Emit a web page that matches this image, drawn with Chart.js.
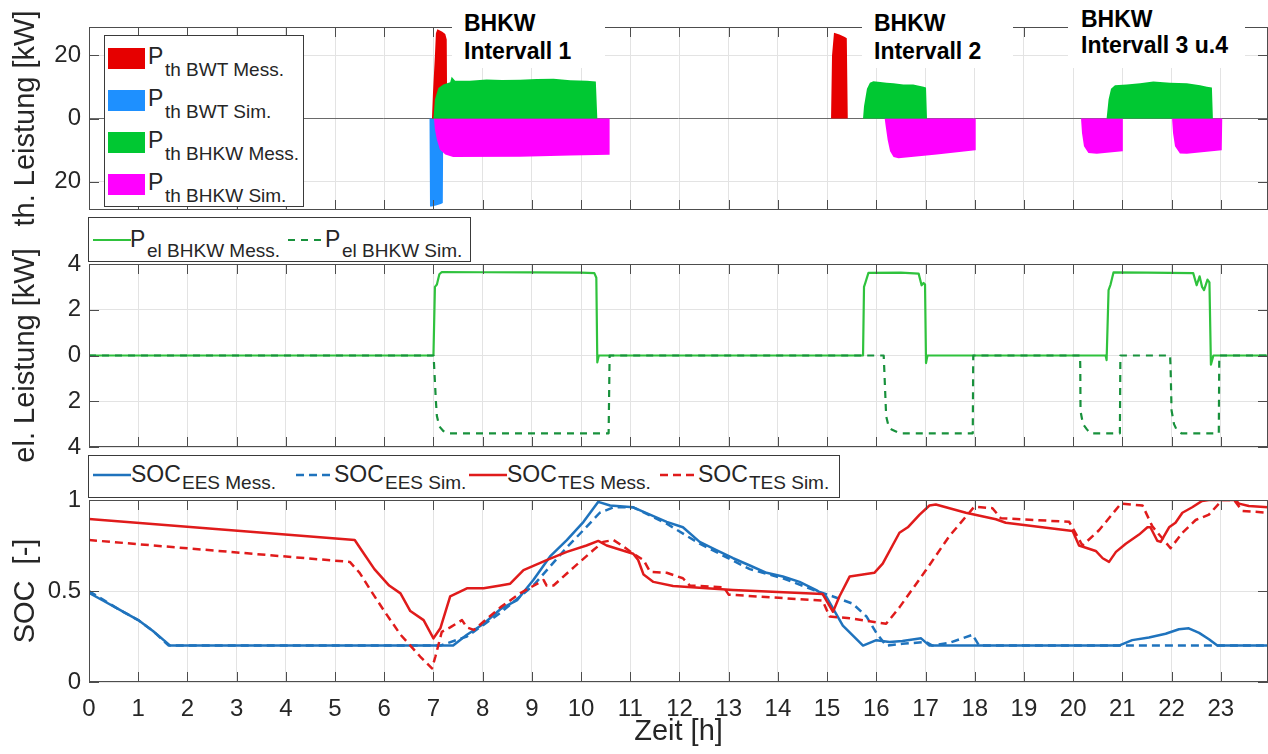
<!DOCTYPE html>
<html><head><meta charset="utf-8">
<script src="https://cdn.jsdelivr.net/npm/chart.js@4.4.1/dist/chart.umd.min.js"></script>
<style>
html,body{margin:0;padding:0;background:#fff;overflow:hidden;}
#wrap{position:relative;width:1268px;height:754px;overflow:hidden;font-family:"Liberation Sans",Arial,sans-serif;color:#262626;}
canvas{position:absolute;left:0;}
.leg{position:absolute;background:#fff;border:1px solid #3a3a3a;box-sizing:border-box;}
.leg span{position:absolute;white-space:nowrap;}
.m{font-size:23px;line-height:23px;}
.s{font-size:19px;line-height:19px;}
.ann{position:absolute;background:#fff;font-weight:bold;font-size:23px;color:#000;box-sizing:border-box;white-space:nowrap;}
</style></head>
<body>
<div id="wrap">
  <canvas id="c3" width="1268" height="314" style="top:440px"></canvas>
  <canvas id="c2" width="1268" height="258" style="top:212px"></canvas>
  <canvas id="c1" width="1268" height="235" style="top:0px"></canvas>
</div>
<script>
const FONT = '"Liberation Sans", Arial, sans-serif';
Chart.defaults.font.family = FONT;
Chart.defaults.color = '#262626';

// ---------- x axis ----------
const hourTicks = [0,1,2,3,4,5,6,7,8,9,10,11,12,13,14,15,16,17,18,19,20,21,22,23];
const xMax = 23.96;

// ---------- panel 1: thermal power [kW] ----------
const thTicks = [-20, 0, 20];
const bwtMessT = [0, 6.97, 6.99, 7.01, 7.03, 7.05, 7.08, 7.12, 7.18, 7.24, 7.27, 7.28, 15.08, 15.10, 15.14, 15.25, 15.36, 15.40, 15.42, 23.96];
const bwtMessP = [0, 0, 8, 14, 20, 27, 28.3, 28.0, 27.5, 26.8, 25, 0, 0, 20, 27.2, 26.6, 25.8, 25.4, 0, 0];
const bwtSimT = [0, 6.92, 6.93, 6.96, 7.05, 7.15, 7.19, 7.20, 23.96];
const bwtSimP = [0, 0, -27.9, -27.9, -27.6, -27.1, -26.8, 0, 0];
const bhkwMessT = [0, 7.0, 7.03, 7.10, 7.20, 7.34, 7.37, 7.44, 7.74, 8.08, 8.40, 8.76, 9.10, 9.44, 9.78, 10.12, 10.30, 10.33,
  15.73, 15.75, 15.81, 15.87, 15.94, 16.08, 16.21, 16.35, 16.55, 16.75, 16.96, 17.01, 17.03,
  20.68, 20.72, 20.77, 20.85, 21.09, 21.36, 21.63, 21.97, 22.31, 22.58, 22.72, 22.82, 22.84, 23.96];
const bhkwMessP = [0, 0, 6.0, 9.7, 10.8, 11.5, 13.2, 12.0, 12.0, 12.4, 12.2, 12.3, 12.5, 12.6, 12.1, 12.0, 11.7, 0,
  0, 3.9, 9.4, 11.3, 11.8, 11.6, 11.3, 11.2, 10.8, 10.8, 10.1, 9.8, 0,
  0, 6.0, 9.4, 10.5, 10.8, 11.2, 11.7, 11.3, 11.2, 10.5, 10.1, 9.8, 0, 0];
const bhkwSimT = [0, 7.01, 7.03, 7.07, 7.13, 7.24, 7.40, 8.76, 9.78, 10.57, 10.58,
  16.17, 16.19, 16.23, 16.28, 16.35, 16.45, 17.23, 18.01, 18.02,
  20.16, 20.18, 20.22, 20.31, 20.48, 21.00, 21.01,
  22.01, 22.03, 22.07, 22.17, 22.31, 23.02, 23.03, 23.96];
const bhkwSimP = [0, 0, -3.5, -6.7, -9.8, -11.4, -12.2, -12.1, -11.7, -11.5, 0,
  0, -2.4, -6.7, -10.4, -12.2, -12.6, -11.4, -10.1, 0,
  0, -4.6, -8.8, -10.9, -11.2, -10.4, 0,
  0, -4.6, -8.8, -11.1, -11.2, -10.1, 0, 0];

// ---------- panel 2: electric power [kW] ----------
const elTicks = [-4, -2, 0, 2, 4];
const elMessT = [0, 7.0, 7.03, 7.07, 7.12, 7.17, 8.0, 9.0, 10.0, 10.27, 10.31, 10.33, 10.36,
  15.73, 15.75, 15.78, 15.84, 16.5, 16.86, 16.92, 16.96, 16.99, 17.01, 17.04,
  20.66, 20.68, 20.72, 20.76, 20.82, 21.5, 22.44, 22.51, 22.57, 22.62, 22.66, 22.73, 22.77, 22.80, 22.85, 23.96];
const elMessP = [0, 0, 3.0, 3.1, 3.55, 3.65, 3.64, 3.63, 3.62, 3.6, 3.4, -0.3, 0,
  0, 3.0, 3.2, 3.61, 3.62, 3.58, 3.07, 3.17, 3.1, -0.33, 0,
  0, -0.2, 2.86, 3.1, 3.63, 3.62, 3.6, 3.07, 3.46, 3.0, 2.86, 3.32, 3.2, -0.4, 0, 0];
const elSimT = [0, 7.0, 7.01, 7.05, 7.07, 7.12, 7.2, 7.3, 10.56, 10.58,
  16.15, 16.16, 16.2, 16.25, 16.31, 16.48, 17.96, 17.97,
  20.14, 20.145, 20.15, 20.2, 20.28, 20.35, 20.95, 20.96,
  21.97, 21.98, 22.0, 22.05, 22.1, 22.2, 22.96, 22.97, 23.96];
const elSimP = [0, 0, -0.3, -2.0, -2.65, -3.1, -3.3, -3.4, -3.4, 0,
  0, -0.5, -2.65, -3.1, -3.23, -3.4, -3.4, 0,
  0, -0.5, -2.43, -3.0, -3.23, -3.4, -3.4, 0,
  0, -0.5, -2.4, -3.0, -3.23, -3.4, -3.4, 0, 0];

// ---------- panel 3: state of charge [-] ----------
const socTicks = [0, 0.5, 1];
const eesMessT = [0, 0.3, 0.6, 1.0, 1.3, 1.65, 7.4, 7.68, 8.02, 8.36, 8.7, 9.03, 9.37, 9.71, 10.05, 10.35, 10.59, 11.06, 11.4, 11.74, 12.07, 12.41, 12.75, 13.09, 13.43, 13.77, 14.1, 14.44, 14.78, 14.98, 15.32, 15.73, 16.0, 16.27, 16.53, 16.91, 17.08, 20.93, 21.2, 21.54, 21.88, 22.15, 22.35, 22.56, 22.76, 22.93, 23.96];
const eesMessV = [0.49, 0.445, 0.40, 0.34, 0.28, 0.2, 0.2, 0.26, 0.32, 0.40, 0.45, 0.56, 0.69, 0.78, 0.88, 0.99, 0.97, 0.96, 0.92, 0.88, 0.85, 0.77, 0.725, 0.68, 0.64, 0.60, 0.58, 0.55, 0.505, 0.47, 0.31, 0.2, 0.23, 0.22, 0.225, 0.24, 0.2, 0.2, 0.23, 0.245, 0.265, 0.29, 0.295, 0.27, 0.235, 0.2, 0.2];
const eesSimT = [0, 0.3, 0.6, 1.0, 1.3, 1.62, 7.14, 7.68, 8.36, 9.03, 9.71, 10.05, 10.38, 10.66, 11.06, 11.74, 12.41, 13.43, 14.1, 14.78, 15.12, 15.52, 15.8, 16.0, 16.2, 16.53, 17.01, 17.14, 17.48, 17.96, 18.0, 18.09, 23.96];
const eesSimV = [0.5, 0.45, 0.40, 0.34, 0.28, 0.2, 0.2, 0.25, 0.38, 0.53, 0.74, 0.835, 0.93, 0.96, 0.96, 0.87, 0.76, 0.62, 0.57, 0.5, 0.47, 0.43, 0.36, 0.27, 0.2, 0.21, 0.22, 0.2, 0.215, 0.26, 0.24, 0.2, 0.2];
const tesMessT = [0, 5.4, 5.55, 5.8, 6.1, 6.33, 6.53, 6.8, 7.0, 7.14, 7.34, 7.68, 8.02, 8.36, 8.56, 8.83, 9.3, 9.71, 10.11, 10.35, 10.52, 11.06, 11.16, 11.27, 11.47, 11.87, 13.09, 14.91, 15.12, 15.25, 15.46, 15.96, 16.13, 16.47, 16.64, 16.88, 17.08, 17.21, 17.82, 18.43, 18.63, 19.99, 20.12, 20.46, 20.6, 20.73, 20.87, 21.07, 21.34, 21.51, 21.57, 21.71, 21.78, 21.95, 22.08, 22.22, 22.42, 22.62, 22.76, 23.3, 23.37, 23.57, 23.96];
const tesMessV = [0.895, 0.78, 0.72, 0.62, 0.53, 0.487, 0.39, 0.34, 0.24, 0.295, 0.47, 0.515, 0.515, 0.53, 0.54, 0.615, 0.67, 0.715, 0.75, 0.775, 0.75, 0.705, 0.67, 0.59, 0.55, 0.527, 0.505, 0.483, 0.386, 0.47, 0.58, 0.6, 0.65, 0.82, 0.85, 0.92, 0.97, 0.975, 0.93, 0.894, 0.875, 0.83, 0.75, 0.72, 0.68, 0.66, 0.715, 0.76, 0.81, 0.85, 0.85, 0.776, 0.77, 0.85, 0.875, 0.93, 0.96, 0.995, 1.0, 1.0, 0.98, 0.967, 0.96];
const tesSimT = [0, 5.3, 5.5, 5.72, 6.0, 6.33, 6.73, 6.97, 7.04, 7.17, 7.34, 7.58, 7.68, 7.82, 8.36, 8.76, 9.24, 9.3, 9.44, 9.85, 10.25, 10.45, 10.66, 10.86, 11.06, 11.27, 11.4, 11.74, 12.07, 12.21, 12.9, 13.0, 14.91, 15.05, 15.46, 16.2, 16.47, 17.01, 17.48, 17.99, 18.36, 18.53, 19.92, 20.19, 20.53, 20.97, 21.41, 21.61, 21.98, 22.22, 22.49, 22.76, 23.03, 23.27, 23.44, 23.96];
const tesSimV = [0.78, 0.66, 0.6, 0.505, 0.39, 0.26, 0.14, 0.075, 0.14, 0.276, 0.30, 0.34, 0.30, 0.286, 0.41, 0.487, 0.56, 0.53, 0.53, 0.63, 0.725, 0.77, 0.78, 0.745, 0.705, 0.67, 0.606, 0.60, 0.57, 0.53, 0.52, 0.48, 0.447, 0.36, 0.35, 0.32, 0.41, 0.615, 0.80, 0.963, 0.955, 0.90, 0.88, 0.75, 0.835, 0.98, 0.97, 0.855, 0.735, 0.82, 0.89, 0.92, 1.0, 1.0, 0.94, 0.93];

// ---------- colours ----------
const C = {
  bwtMess: '#e60000', bwtSim: '#1e90ff', bhkwMess: '#00c832', bhkwSim: '#ff00ff',
  elMess: '#2fc23d', elSim: '#18913c', ees: '#1f73bd', tes: '#e01b1b'
};

function pts(t, v) { return t.map((x, i) => ({ x: x, y: v[i] })); }
function setTicks(arr) { return s => { s.ticks = arr.map(v => ({ value: v })); }; }

const boxPlugin = {
  id: 'box',
  afterDraw(chart) {
    const { ctx, chartArea: a, scales } = chart;
    ctx.save();
    ctx.strokeStyle = '#4d4d4d';
    ctx.lineWidth = 1;
    ctx.beginPath();
    scales.x.ticks.forEach(t => {
      const px = Math.round(scales.x.getPixelForValue(t.value)) + 0.5;
      ctx.moveTo(px, a.bottom); ctx.lineTo(px, a.bottom - 10);
      ctx.moveTo(px, a.top); ctx.lineTo(px, a.top + 10);
    });
    scales.y.ticks.forEach(t => {
      const py = Math.round(scales.y.getPixelForValue(t.value)) + 0.5;
      ctx.moveTo(a.left, py); ctx.lineTo(a.left + 10, py);
      ctx.moveTo(a.right, py); ctx.lineTo(a.right - 10, py);
    });
    ctx.stroke();
    ctx.strokeRect(Math.round(a.left) + 0.5, Math.round(a.top) + 0.5, Math.round(a.width) - 1, Math.round(a.height) - 1);
    ctx.restore();
  }
};

function options(cfg) {
  return {
    responsive: false, animation: false, events: [],
    layout: { autoPadding: false, padding: { top: cfg.padTop, bottom: cfg.padBottom, left: 0, right: 0 } },
    plugins: { legend: { display: false }, tooltip: { enabled: false } },
    scales: {
      x: {
        type: 'linear', min: 0, max: xMax,
        afterBuildTicks: setTicks(hourTicks),
        afterFit: s => { s.height = cfg.xHeight; s.paddingLeft = 0; s.paddingRight = 0; },
        grid: { color: '#e3e3e3', drawTicks: false },
        border: { display: false },
        ticks: { display: cfg.showX, padding: 13, maxRotation: 0, autoSkip: false, font: { size: 24 }, color: '#262626' },
        title: { display: cfg.showX, text: 'Zeit [h]', font: { size: 29 }, color: '#262626', padding: { top: 0, bottom: 5 } }
      },
      y: {
        type: 'linear', min: cfg.yMin, max: cfg.yMax,
        afterBuildTicks: setTicks(cfg.yTicks),
        afterFit: s => { s.width = 89; s.paddingTop = 0; s.paddingBottom = 0; },
        grid: { color: cfg.zeroDark ? (c => (c.tick && c.tick.value === 0) ? '#6a6a6a' : '#e3e3e3') : '#e3e3e3', drawTicks: false },
        border: { display: false },
        ticks: { padding: 8, font: { size: 24 }, color: '#262626', callback: v => String(Math.abs(v)) },
        title: { display: true, text: cfg.title, font: { size: 29 }, color: '#262626', padding: { top: 9, bottom: 0 } }
      }
    }
  };
}

function area(t, v, color, order) {
  return { data: pts(t, v), backgroundColor: color, borderColor: 'rgba(0,0,0,0)', borderWidth: 0, fill: 'origin', pointRadius: 0, tension: 0, order: order };
}
function line(t, v, color, width, dash, order) {
  return { data: pts(t, v), borderColor: color, backgroundColor: color, borderWidth: width, borderDash: dash, fill: false, pointRadius: 0, tension: 0, order: order, borderJoinStyle: 'round' };
}

new Chart(document.getElementById('c1'), {
  type: 'line',
  data: { datasets: [
    area(bwtMessT, bwtMessP, C.bwtMess, 2),
    area(bwtSimT, bwtSimP, C.bwtSim, 2),
    area(bhkwMessT, bhkwMessP, C.bhkwMess, 1),
    area(bhkwSimT, bhkwSimP, C.bhkwSim, 1)
  ] },
  options: options({ padTop: 27, padBottom: 25, xHeight: 0, showX: false, yMin: -29, yMax: 29, yTicks: thTicks, title: 'th. Leistung [kW]', zeroDark: true }),
  plugins: [boxPlugin]
});

new Chart(document.getElementById('c2'), {
  type: 'line',
  data: { datasets: [
    line(elMessT, elMessP, C.elMess, 2.2, [], 2),
    line(elSimT, elSimP, C.elSim, 2.2, [7, 6], 1)
  ] },
  options: options({ padTop: 52, padBottom: 23, xHeight: 0, showX: false, yMin: -4, yMax: 4, yTicks: elTicks, title: 'el. Leistung [kW]', zeroDark: false }),
  plugins: [boxPlugin]
});

new Chart(document.getElementById('c3'), {
  type: 'line',
  data: { datasets: [
    line(eesMessT, eesMessV, C.ees, 2.5, [], 2),
    line(eesSimT, eesSimV, C.ees, 2.5, [8, 5], 2),
    line(tesMessT, tesMessV, C.tes, 2.5, [], 1),
    line(tesSimT, tesSimV, C.tes, 2.5, [8, 5], 1)
  ] },
  options: options({ padTop: 60, padBottom: 0, xHeight: 72, showX: true, yMin: 0, yMax: 1, yTicks: socTicks, title: 'SOC  [-]', zeroDark: false }),
  plugins: [boxPlugin]
});

// ---------- legends & annotations (HTML text) ----------
const wrap = document.getElementById('wrap');
function el(html) { const d = document.createElement('div'); d.innerHTML = html; return d.firstChild; }
function sample(kind, color, dash, w) {
  if (kind === 'patch') return `<span style="left:0;top:0;width:37px;height:21px;background:${color}"></span>`;
  return `<svg width="38" height="6" style="position:absolute;left:0;top:0"><line x1="0" y1="3" x2="38" y2="3" stroke="${color}" stroke-width="${w}" ${dash ? 'stroke-dasharray="' + dash + '"' : ''}/></svg>`;
}

// panel 1 legend
const thLegend = [
  { main: 'P', sub: 'th BWT Mess.', color: C.bwtMess },
  { main: 'P', sub: 'th BWT Sim.', color: C.bwtSim },
  { main: 'P', sub: 'th BHKW Mess.', color: C.bhkwMess },
  { main: 'P', sub: 'th BHKW Sim.', color: C.bhkwSim }
];
let h = '<div class="leg" style="left:104px;top:35px;width:200px;height:172px">';
thLegend.forEach((it, i) => {
  const top = 12 + i * 42;
  h += `<div style="position:absolute;left:3px;top:${top}px">` + sample('patch', it.color) +
       `<span class="m" style="left:40px;top:-3px">${it.main}</span><span class="s" style="left:57px;top:12px">${it.sub}</span></div>`;
});
h += '</div>';
wrap.appendChild(el(h));

// panel 2 legend
const elLegend = [
  { main: 'P', sub: 'el BHKW Mess.', color: C.elMess, dash: '', x: 4 },
  { main: 'P', sub: 'el BHKW Sim.', color: C.elSim, dash: '7 6', x: 199 }
];
h = '<div class="leg" style="left:88px;top:217px;width:383px;height:45px">';
elLegend.forEach(it => {
  h += `<div style="position:absolute;left:${it.x}px;top:19px">` + sample('line', it.color, it.dash, 2.2) + '</div>' +
       `<span class="m" style="left:${it.x + 37}px;top:10px">${it.main}</span><span class="s" style="left:${it.x + 54}px;top:23px">${it.sub}</span>`;
});
h += '</div>';
wrap.appendChild(el(h));

// panel 3 legend
const socLegend = [
  { main: 'SOC', sub: 'EES Mess.', color: C.ees, dash: '', x: 4 },
  { main: 'SOC', sub: 'EES Sim.', color: C.ees, dash: '8 5', x: 207 },
  { main: 'SOC', sub: 'TES Mess.', color: C.tes, dash: '', x: 380 },
  { main: 'SOC', sub: 'TES Sim.', color: C.tes, dash: '8 5', x: 571 }
];
h = '<div class="leg" style="left:88px;top:455px;width:752px;height:43px">';
socLegend.forEach(it => {
  h += `<div style="position:absolute;left:${it.x}px;top:16px">` + sample('line', it.color, it.dash, 2.5) + '</div>' +
       `<span class="m" style="left:${it.x + 38}px;top:7px">${it.main}</span><span class="s" style="left:${it.x + 89}px;top:17px">${it.sub}</span>`;
});
h += '</div>';
wrap.appendChild(el(h));

// interval annotations
const annotations = [
  { l1: 'BHKW', l2: 'Intervall 1', left: 452, width: 153, pl: 12, pt: 9, lh: 28 },
  { l1: 'BHKW', l2: 'Intervall 2', left: 862, width: 151, pl: 12, pt: 9, lh: 28 },
  { l1: 'BHKW', l2: 'Intervall 3 u.4', left: 1068, width: 177, pl: 13, pt: 6, lh: 26 }
];
annotations.forEach(a => {
  wrap.appendChild(el(`<div class="ann" style="left:${a.left}px;top:0;width:${a.width}px;height:68px;padding-left:${a.pl}px;padding-top:${a.pt}px;line-height:${a.lh}px">${a.l1}<br>${a.l2}</div>`));
});
</script>
</body></html>
